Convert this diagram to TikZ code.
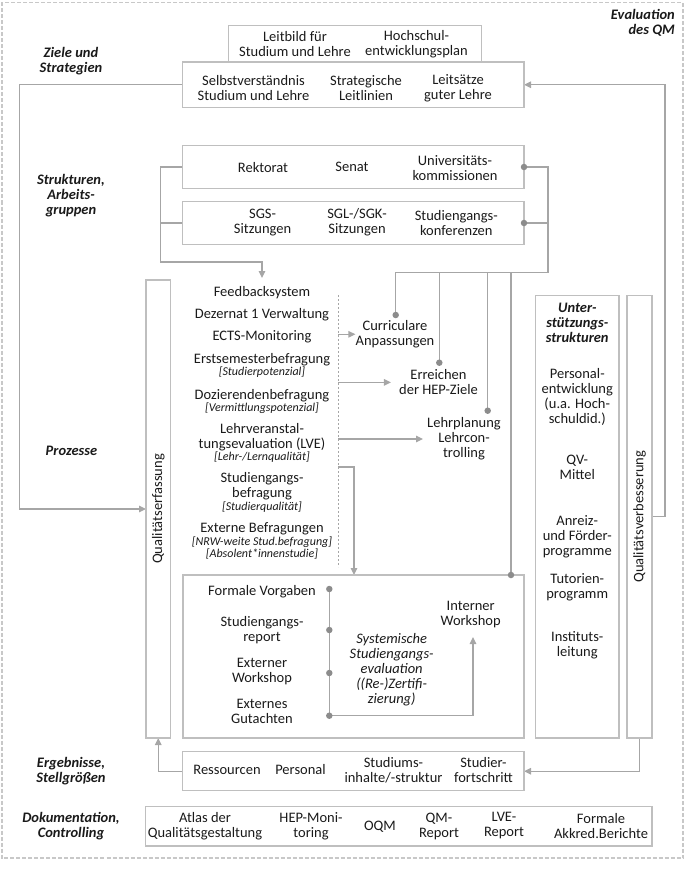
\documentclass[tikz,border=0pt]{standalone}
\usepackage{fontspec}
\setmainfont{Carlito}
\usetikzlibrary{arrows.meta,backgrounds}
\definecolor{boxgray}{HTML}{BFBFBF}
\definecolor{linegray}{HTML}{A6A6A6}
\definecolor{dotgray}{HTML}{8C8C8C}
\definecolor{dashgray}{HTML}{C8C8C8}
\definecolor{ink}{HTML}{1A1A1A}
\tikzset{
  box/.style={draw=boxgray, line width=1.2pt, inner sep=0pt, outer sep=0pt},
  txt/.style={inner sep=0pt, align=center, text=ink, font=\fontsize{14.5}{15}\selectfont},
  note/.style={inner sep=0pt, align=center, text=ink, font=\fontsize{12}{12}\selectfont\itshape},
  lbl/.style={inner sep=0pt, align=center, text=ink, font=\fontsize{14.5}{15}\selectfont\bfseries\itshape},
  conn/.style={draw=linegray, line width=1.2pt},
  arr/.style={conn, -{Triangle[length=7pt,width=6.5pt]}},
  dotmark/.style={circle, fill=dotgray, inner sep=0pt, minimum size=6.5pt},
  guide/.style={draw=linegray, line width=0.8pt, dash pattern=on 2pt off 2pt},
  frame/.style={draw=dashgray, line width=1.2pt, dash pattern=on 4pt off 2pt}
}
\begin{document}
\begin{tikzpicture}[x=1pt,y=-1pt]
\useasboundingbox (0,0) rectangle (685,869);
\draw[frame] (2,2.5) rectangle (683,858);

% ---------- boxes ----------
\node[box, minimum width=341.5pt, minimum height=45.5pt] (selbst) at (353.25,84.75) {};
\node[box, minimum width=253.1pt, minimum height=36.3pt] (leitbild) at (355.05,43.85) {};
\node[box, minimum width=341.5pt, minimum height=42.6pt] (rekB) at (353.25,167) {};
\node[box, minimum width=341.5pt, minimum height=42.6pt] (sgsB) at (353.25,223) {};
\node[box, minimum width=24.5pt, minimum height=458pt] (qerf) at (158.25,509) {};
\node[box, minimum width=83.5pt, minimum height=442.5pt] (unter) at (577.25,516.75) {};
\node[box, minimum width=25pt, minimum height=442.5pt] (qverb) at (639.5,516.75) {};
\node[box, minimum width=341pt, minimum height=163pt] (sse) at (353.5,656.5) {};
\node[box, minimum width=341.5pt, minimum height=39pt] (erg) at (353.25,771.2) {};
\node[box, minimum width=506.5pt, minimum height=39.3pt] (doku) at (398.75,826.35) {};

% ---------- labels left / right ----------
\node[lbl, anchor=east, align=right] (evalL) at (675,23) {Evaluation\\des QM};
\node[lbl] (zieleL) at (71,61) {Ziele und\\Strategien};
\node[lbl] (strukL) at (71,196) {Strukturen,\\Arbeits-\\gruppen};
\node[lbl] (prozL) at (71.5,451) {Prozesse};
\node[lbl] (ergL) at (71,771) {Ergebnisse,\\Stellgrößen};
\node[lbl] (dokL) at (71,826.5) {Dokumentation,\\Controlling};

% ---------- top texts ----------
\node[txt] (leitT) at (295,44.5) {Leitbild für\\Studium und Lehre};
\node[txt] (hochT) at (416.5,44.5) {Hochschul-\\entwicklungsplan};
\node[txt] (selbstT) at (253.5,88) {Selbstverständnis\\Studium und Lehre};
\node[txt] (stratT) at (366,88) {Strategische\\Leitlinien};
\node[txt] (leitsT) at (458,88) {Leitsätze\\guter Lehre};

\node[txt] (rekT) at (263,167.7) {Rektorat};
\node[txt] (senT) at (352,166.7) {Senat};
\node[txt] (uniT) at (455,168) {Universitäts-\\kommissionen};
\node[txt] (sgsT) at (262.6,222.7) {SGS-\\Sitzungen};
\node[txt] (sglT) at (357,222.7) {SGL-/SGK-\\Sitzungen};
\node[txt] (stkT) at (456.3,222.7) {Studiengangs-\\konferenzen};

% ---------- process list ----------
\node[txt] (fb) at (262,292.7) {Feedbacksystem};
\node[txt] (dez) at (262,315) {Dezernat 1 Verwaltung};
\node[txt] (ects) at (262,337) {ECTS-Monitoring};
\node[txt] (erst) at (262,360) {Erstsemesterbefragung};
\node[note] (erstN) at (262,372.5) {[Studierpotenzial]};
\node[txt] (doz) at (262,395.7) {Dozierendenbefragung};
\node[note] (dozN) at (262,408) {[Vermittlungspotenzial]};
\node[txt] (lve) at (262,437) {Lehrveranstal-\\tungsevaluation (LVE)};
\node[note] (lveN) at (262,457) {[Lehr-/Lernqualität]};
\node[txt] (sgb) at (262,486.5) {Studiengangs-\\befragung};
\node[note] (sgbN) at (262,506.7) {[Studierqualität]};
\node[txt] (ext) at (262,528.5) {Externe Befragungen};
\node[note] (extN) at (262,548) {[NRW-weite Stud.befragung]\\{[Absolent*innenstudie]}};

\node[txt] (cur) at (395,334.3) {Curriculare\\Anpassungen};
\node[txt] (hep) at (438.5,382.4) {Erreichen\\der HEP-Ziele};
\node[txt] (lehr) at (464,439) {Lehrplanung\\Lehrcon-\\trolling};

% ---------- SSE box texts ----------
\node[txt] (fv) at (262,592) {Formale Vorgaben};
\node[txt] (sr) at (262,630) {Studiengangs-\\report};
\node[txt] (ew) at (262,672) {Externer\\Workshop};
\node[txt] (eg) at (262,711) {Externes\\Gutachten};
\node[txt] (iw) at (470.7,615) {Interner\\Workshop};
\node[txt, font=\fontsize{14.5}{15}\selectfont\itshape] (sys) at (391.7,670) {Systemische\\Studiengangs-\\evaluation\\((Re-)Zertifi-\\zierung)};

% ---------- support structures ----------
\node[lbl] (unterT) at (577.25,323) {Unter-\\stützungs-\\strukturen};
\node[txt] (persT) at (577.25,397) {Personal-\\entwicklung\\(u.a. Hoch-\\schuldid.)};
\node[txt] (qvT) at (577.25,467) {QV-\\Mittel};
\node[txt] (anrT) at (577.25,537) {Anreiz-\\und Förder-\\programme};
\node[txt] (tutT) at (577.25,587) {Tutorien-\\programm};
\node[txt] (instT) at (577.25,645) {Instituts-\\leitung};

\node[txt, rotate=90] (qerfT) at (qerf.center) {Qualitätserfassung};
\node[txt, rotate=90] (qverbT) at (qverb.center) {Qualitätsverbesserung};

% ---------- results / documentation ----------
\node[txt] (resT) at (227,770) {Ressourcen};
\node[txt] (perT) at (300.5,770) {Personal};
\node[txt] (studT) at (393.5,770) {Studiums-\\inhalte/-struktur};
\node[txt] (sfT) at (483.5,770) {Studier-\\fortschritt};

\node[txt] (atlT) at (205,826) {Atlas der\\Qualitätsgestaltung};
\node[txt] (hepmT) at (311,826) {HEP-Moni-\\toring};
\node[txt] (oqmT) at (380,826.7) {OQM};
\node[txt] (qmrT) at (439,826) {QM-\\Report};
\node[txt] (lverT) at (504,826) {LVE-\\Report};
\node[txt] (formT) at (601,826) {Formale\\Akkred.Berichte};

% ---------- dots ----------
\node[dotmark] (dRek) at (rekB.east) {};
\node[dotmark] (dSgs) at (sgsB.east) {};
\node[dotmark] (dCur) at (395.7,315) {};
\node[dotmark] (dHep) at (439.3,362.7) {};
\node[dotmark] (dLehr) at (487.7,410.7) {};
\node[dotmark] (dSse) at (511,575) {};
\node[dotmark] (dFV) at (329.3,589) {};
\node[dotmark] (dSR) at (329.3,630) {};
\node[dotmark] (dEW) at (329.3,673) {};
\node[dotmark] (dEG) at (329.3,715.7) {};

% ---------- connectors ----------
\coordinate (lTop) at (19.5,84.75);
\coordinate (rBend) at (665,516.75);
\coordinate (sBend) at (160.5,262);
\coordinate (fbIn) at (262,278);
\coordinate (busR) at (548,272.7);
\coordinate (gTop) at (338.3,295);
\coordinate (gBot) at (338.3,567);
\coordinate (lveOut) at (338.3,467);
\coordinate (sseIn) at (354,575);
\coordinate (iwIn) at (473,637);

\begin{scope}[on background layer]
\draw[arr] (selbst.west) -- (lTop) |- (qerf.west);
\draw[arr] (qverb.east) -- (rBend) |- (selbst.east);
\draw[arr] (qverb.south) |- (erg.east);
\draw[arr] (erg.west) -| (qerf.south);

\draw[arr] (rekB.west) -| (sBend) -| (fbIn);
\draw[conn] (sgsB.west) -- (sgsB.west -| sBend);

\draw[conn] (dRek.center) -| (busR) -| (dCur.center);
\draw[conn] (dSgs.center) -- (dSgs.center -| busR);
\draw[conn] (dHep.center) -- (dHep.center |- busR);
\draw[conn] (dLehr.center) -- (dLehr.center |- busR);
\draw[conn] (dSse.center) -- (dSse.center |- busR);

\draw[guide] (gTop) -- (gBot);
\draw[arr] (cur.west -| gTop) -- (cur.west);
\draw[arr, shorten >=8pt] (hep.west -| gTop) -- (hep.west);
\draw[arr, shorten >=4pt] (lehr.west -| gTop) -- (lehr.west);
\draw[arr] (lveOut) -| (sseIn);

\draw[conn] (dFV.center) -- (dEG.center);
\draw[arr] (dEG.center) -| (iwIn);
\end{scope}
\end{tikzpicture}
\end{document}
